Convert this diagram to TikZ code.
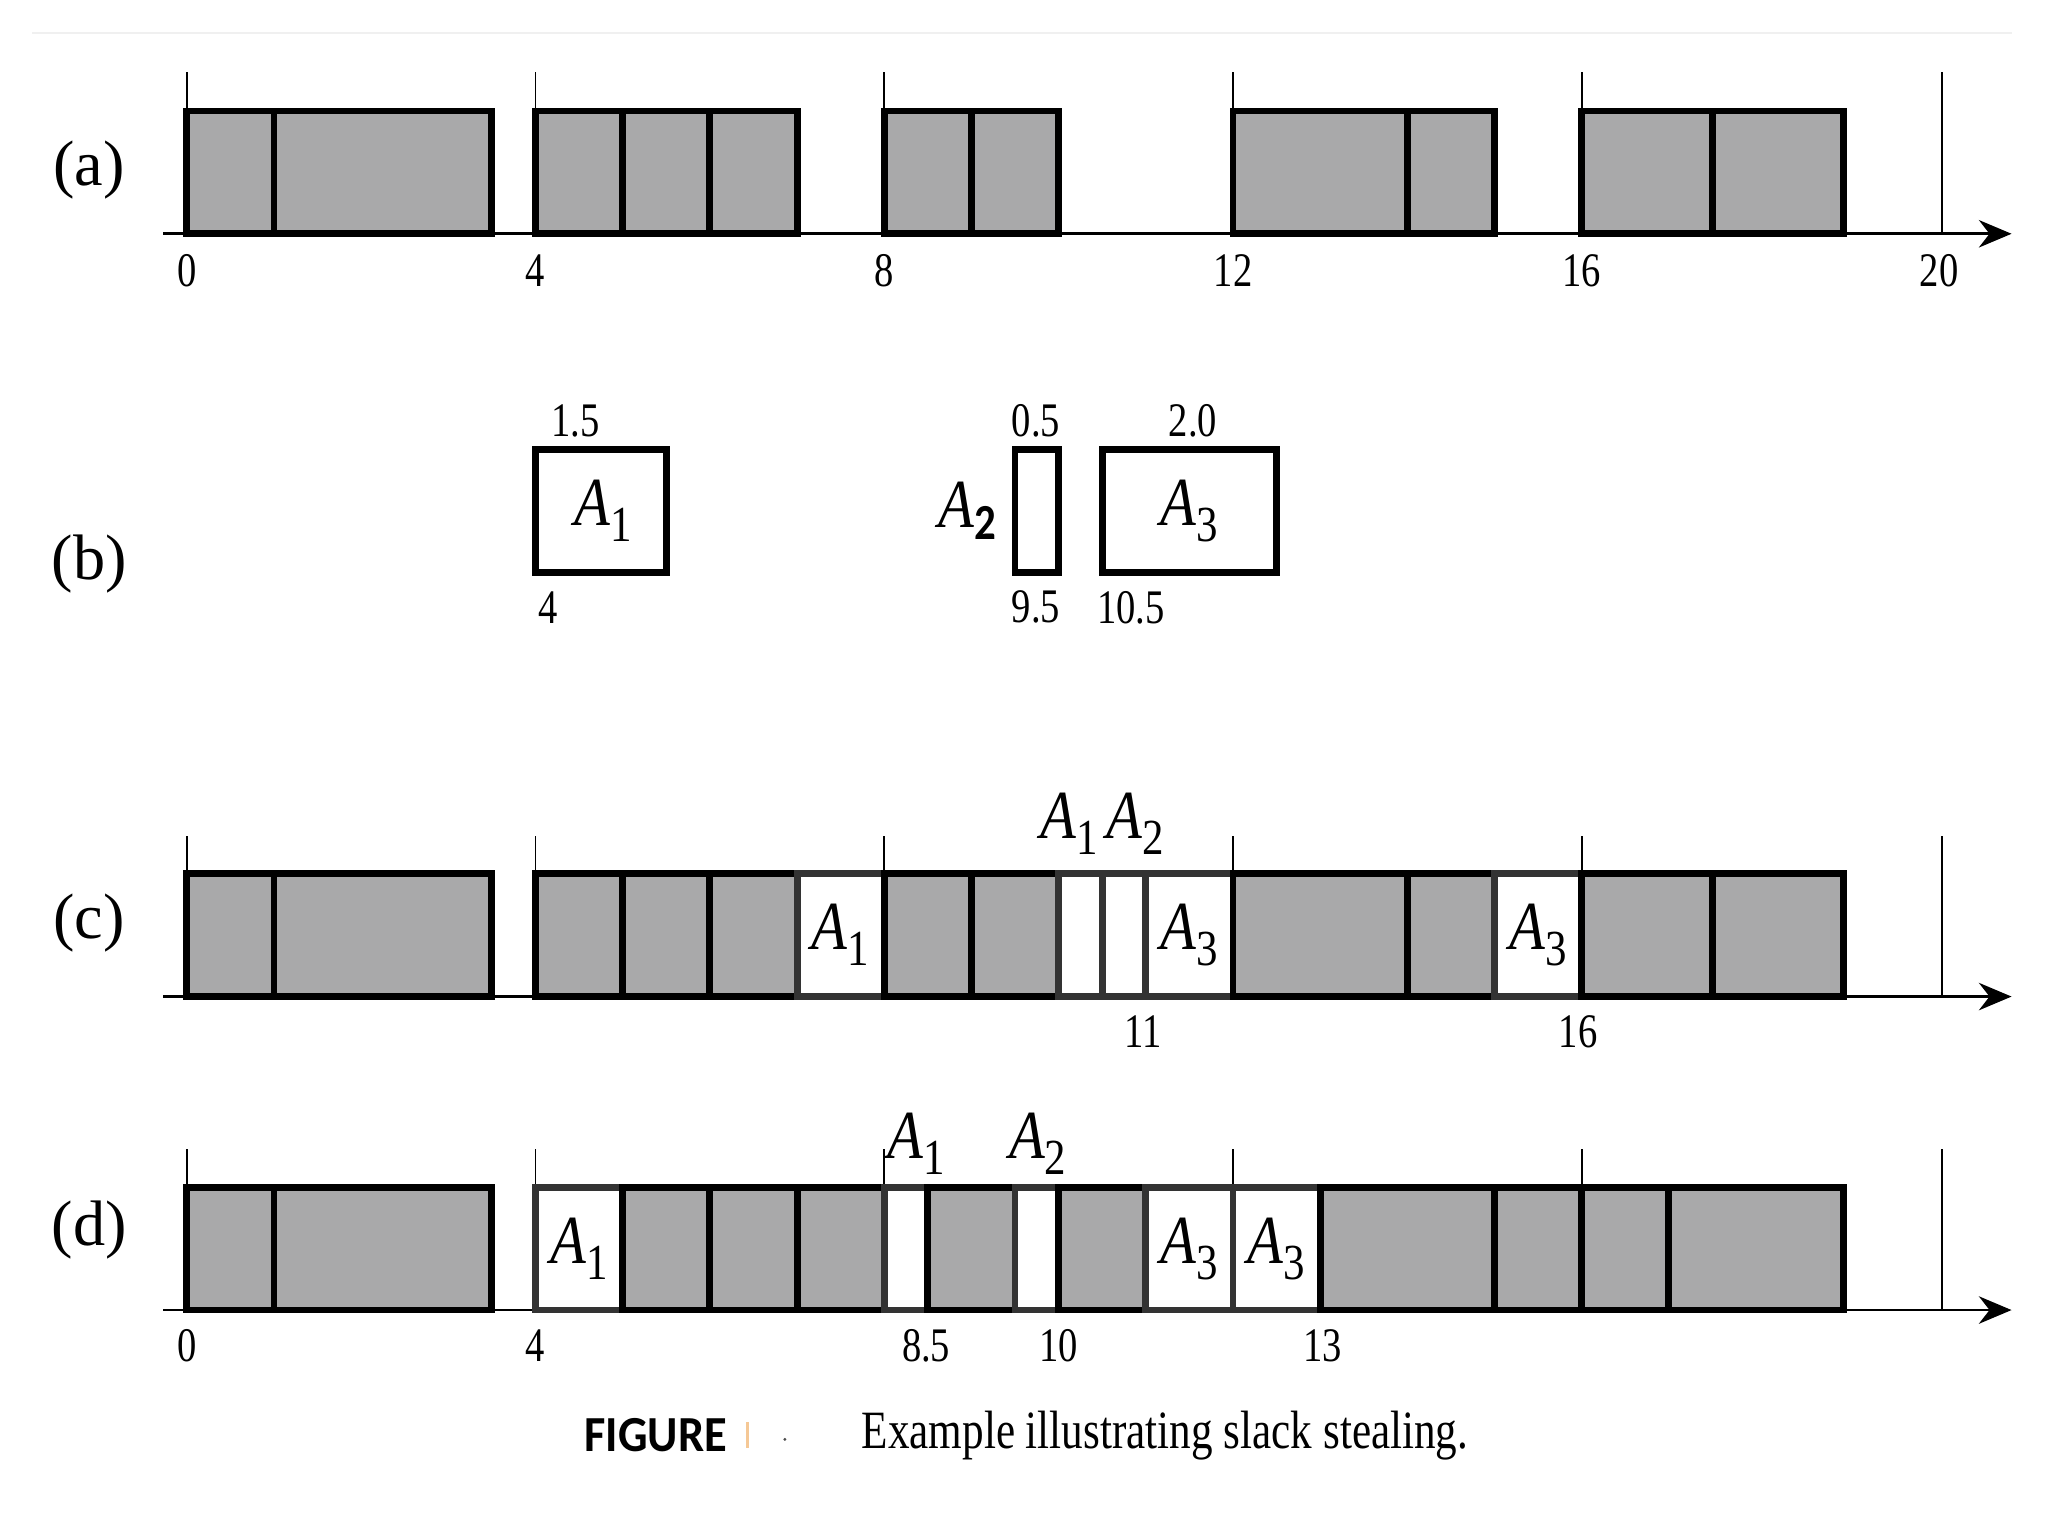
\documentclass[tikz,border=0pt]{standalone}
\usepackage{fontspec}
\setmainfont{Liberation Serif}
\setsansfont{Carlito}
\usepackage{tikz}
\usetikzlibrary{arrows.meta}
\definecolor{busygray}{RGB}{169,169,170}
\definecolor{markorange}{RGB}{245,200,150}
\newcommand{\job}[1]{\textit{A}\raisebox{-7pt}{\fontsize{22}{22}\selectfont #1}}
\tikzset{
  busy/.style={
    draw=black,
    line width=3pt,
    fill=busygray
  },
  slack/.style={
    draw=black!80,
    line width=3pt,
    fill=white
  },
  jobbox/.style={
    draw=black,
    line width=3pt,
    fill=white
  },
  tickline/.style={
    line width=0.8pt
  },
  timeaxis/.style={
    line width=1.2pt,
    -{Stealth[length=0.5cm,width=0.42cm]}
  },
  num/.style={
    font=\fontsize{21}{21}\selectfont,
    xscale=0.8,
    transform shape,
    inner sep=0pt
  },
  rowlabel/.style={
    font=\fontsize{28}{28}\selectfont,
    inner sep=0pt
  },
  joblabel/.style={
    font=\fontsize{30}{30}\selectfont,
    xscale=0.85,
    transform shape,
    inner sep=0pt
  }
}

\begin{document}
\begin{tikzpicture}[x=1.335cm, y=1cm]
\useasboundingbox (-2.1423,0) rectangle (21.348,23.52);
\draw[gray!12, line width=0.8pt] (-1.77,23.02) -- (20.93,23.02);

% Ligne (a)
\node[rowlabel] (la) at (-1.12,20.92) {(a)};
\draw[tickline] (0,19.94) -- (0,22.42) (4,19.94) -- (4,22.42) (8,19.94) -- (8,22.42)
  (12,19.94) -- (12,22.42) (16,19.94) -- (16,22.42) (20.13,19.94) -- (20.13,22.42);
\coordinate (a start) at (-0.27,19.94);
\coordinate (a end) at (20.93,19.94);
\draw[timeaxis] (a start) -- (a end);
\draw[busy] (0,19.94) rectangle (1,21.82) (1,19.94) rectangle (3.5,21.82);
\draw[busy] (4,19.94) rectangle (5,21.82) (5,19.94) rectangle (6,21.82) (6,19.94) rectangle (7,21.82);
\draw[busy] (8,19.94) rectangle (9,21.82) (9,19.94) rectangle (10,21.82);
\draw[busy] (12,19.94) rectangle (14,21.82) (14,19.94) rectangle (15,21.82);
\draw[busy] (16,19.94) rectangle (17.5,21.82) (17.5,19.94) rectangle (19,21.82);
\node[num] (a0) at (0,19.38) {0};
\node[num] (a4) at (4,19.38) {4};
\node[num] (a8) at (8,19.38) {8};
\node[num] (a12) at (12,19.38) {12};
\node[num] (a16) at (16,19.38) {16};
\node[num] (a20) at (20.1,19.38) {20};

% Ligne (b)
\node[rowlabel] (lb) at (-1.12,14.88) {(b)};
\draw[jobbox] (4,14.76) rectangle (5.5,16.64);
\draw[jobbox] (9.5,14.76) rectangle (10,16.64);
\draw[jobbox] (10.5,14.76) rectangle (12.5,16.64);
\node[joblabel] (bA1) at (4.78,15.7) {\job{1}};
\node[joblabel] (bA2) at (8.95,15.7) {\textit{A}\raisebox{-5pt}{\fontsize{22}{22}\selectfont\sffamily\bfseries 2}};
\node[joblabel] (bA3) at (11.5,15.7) {\job{3}};
\node[num] (b15) at (4.46,17.08) {1.5};
\node[num] (b05) at (9.74,17.08) {0.5};
\node[num] (b20) at (11.54,17.08) {2.0};
\node[num] (b4) at (4.15,14.22) {4};
\node[num] (b95) at (9.74,14.22) {9.5};
\node[num] (b105) at (10.83,14.22) {10.5};

% Ligne (c)
\node[rowlabel] (lc) at (-1.12,9.38) {(c)};
\draw[tickline] (0,8.26) -- (0,10.72) (4,8.26) -- (4,10.72) (8,8.26) -- (8,10.72)
  (12,8.26) -- (12,10.72) (16,8.26) -- (16,10.72) (20.13,8.26) -- (20.13,10.72);
\coordinate (c start) at (-0.27,8.26);
\coordinate (c end) at (20.93,8.26);
\draw[timeaxis] (c start) -- (c end);
\draw[busy] (0,8.26) rectangle (1,10.14) (1,8.26) rectangle (3.5,10.14);
\draw[busy] (4,8.26) rectangle (5,10.14) (5,8.26) rectangle (6,10.14) (6,8.26) rectangle (7,10.14);
\draw[slack] (7,8.26) rectangle (8,10.14);
\draw[busy] (8,8.26) rectangle (9,10.14) (9,8.26) rectangle (10,10.14);
\draw[slack] (10,8.26) rectangle (10.5,10.14) (10.5,8.26) rectangle (11,10.14) (11,8.26) rectangle (12,10.14);
\draw[busy] (12,8.26) rectangle (14,10.14) (14,8.26) rectangle (15,10.14);
\draw[slack] (15,8.26) rectangle (16,10.14);
\draw[busy] (16,8.26) rectangle (17.5,10.14) (17.5,8.26) rectangle (19,10.14);
\node[joblabel] (cA1) at (7.5,9.2) {\job{1}};
\node[joblabel] (cA3a) at (11.5,9.2) {\job{3}};
\node[joblabel] (cA3b) at (15.5,9.2) {\job{3}};
\node[joblabel] (cA1top) at (10.12,10.9) {\job{1}};
\node[joblabel] (cA2top) at (10.88,10.9) {\job{2}};
\node[num] (c11) at (10.97,7.72) {11};
\node[num] (c16) at (15.96,7.72) {16};

% Ligne (d)
\node[rowlabel] (ld) at (-1.12,4.68) {(d)};
\draw[tickline] (0,3.46) -- (0,5.92) (4,3.46) -- (4,5.92) (8,3.46) -- (8,5.92)
  (12,3.46) -- (12,5.92) (16,3.46) -- (16,5.92) (20.13,3.46) -- (20.13,5.92);
\coordinate (d start) at (-0.27,3.46);
\coordinate (d end) at (20.93,3.46);
\draw[timeaxis] (d start) -- (d end);
\draw[busy] (0,3.46) rectangle (1,5.34) (1,3.46) rectangle (3.5,5.34);
\draw[slack] (4,3.46) rectangle (5,5.34);
\draw[busy] (5,3.46) rectangle (6,5.34) (6,3.46) rectangle (7,5.34) (7,3.46) rectangle (8,5.34);
\draw[slack] (8,3.46) rectangle (8.5,5.34);
\draw[busy] (8.5,3.46) rectangle (9.5,5.34);
\draw[slack] (9.5,3.46) rectangle (10,5.34);
\draw[busy] (10,3.46) rectangle (11,5.34);
\draw[slack] (11,3.46) rectangle (12,5.34) (12,3.46) rectangle (13,5.34);
\draw[busy] (13,3.46) rectangle (15,5.34) (15,3.46) rectangle (16,5.34);
\draw[busy] (16,3.46) rectangle (17,5.34) (17,3.46) rectangle (19,5.34);
\node[joblabel] (dA1) at (4.5,4.4) {\job{1}};
\node[joblabel] (dA3a) at (11.5,4.4) {\job{3}};
\node[joblabel] (dA3b) at (12.5,4.4) {\job{3}};
\node[joblabel] (dA1top) at (8.37,6.0) {\job{1}};
\node[joblabel] (dA2top) at (9.76,6.0) {\job{2}};
\node[num] (d0) at (0,2.92) {0};
\node[num] (d4) at (3.99,2.92) {4};
\node[num] (d85) at (8.48,2.92) {8.5};
\node[num] (d10) at (10,2.92) {10};
\node[num] (d13) at (13.03,2.92) {13};

% Legende
\node[font=\fontsize{22}{22}\selectfont\sffamily\bfseries, xscale=0.92, transform shape, inner sep=0pt] (fig) at (5.38,1.54) {FIGURE};
\fill[markorange] (6.41,1.34) rectangle (6.45,1.74);
\fill[black!70] (6.86,1.48) circle (0.7pt);
\node[font=\fontsize{23.5}{23.5}\selectfont, xscale=0.8, transform shape, inner sep=0pt] (caption) at (11.22,1.54) {Example illustrating slack stealing.};
\end{tikzpicture}
\end{document}
